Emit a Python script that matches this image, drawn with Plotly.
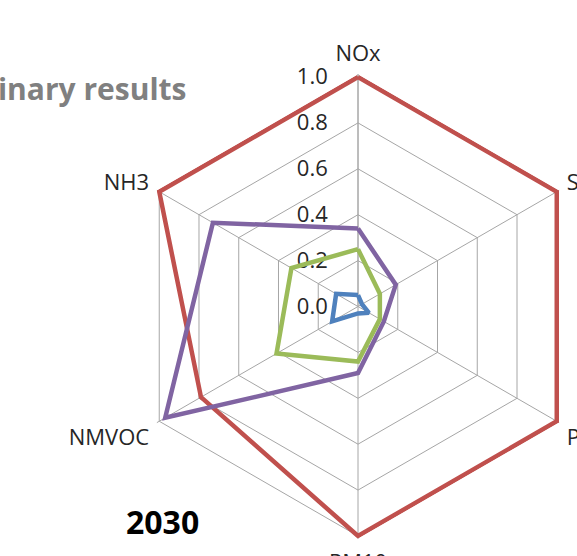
import plotly.graph_objects as go

categories = ["NOx", "SO2", "PM2.5", "PM10", "NMVOC", "NH3"]
red_values = [1.0, 1.0, 1.0, 1.0, 0.79, 1.0]
purple_values = [0.34, 0.19, 0.13, 0.29, 0.97, 0.73]
green_values = [0.25, 0.11, 0.11, 0.24, 0.41, 0.335]
blue_values = [0.05, 0.02, 0.055, 0.03, 0.13, 0.11]
radial_ticks = [0.0, 0.2, 0.4, 0.6, 0.8, 1.0]

series = [
    ("red", red_values, "#C0504D"),
    ("purple", purple_values, "#8064A2"),
    ("green", green_values, "#9BBB59"),
    ("blue", blue_values, "#4F81BD"),
]

W, H = 600, 556
rmax = 1.012
cx, cy, R = 358, 306.5, 229.5 * rmax

fig = go.Figure()
for name, vals, col in series:
    fig.add_trace(go.Scatterpolar(
        r=vals + [vals[0]],
        theta=categories + [categories[0]],
        mode="lines",
        line=dict(color=col, width=4.5),
        name=name,
        showlegend=False,
        cliponaxis=False,
    ))

fig.update_layout(
    width=W, height=H,
    margin=dict(l=0, r=0, t=0, b=0),
    paper_bgcolor="white",
    plot_bgcolor="white",
    font=dict(family="Open Sans, sans-serif", color="#262626", size=22),
    polar=dict(
        domain=dict(x=[(cx - R) / W, (cx + R) / W], y=[(H - cy - R) / H, (H - cy + R) / H]),
        gridshape="linear",
        bgcolor="white",
        angularaxis=dict(
            direction="clockwise", rotation=90, layer="below traces",
            showline=False,
            gridcolor="#A6A6A6", gridwidth=1,
            ticks="outside", ticklen=4, tickcolor="rgba(0,0,0,0)",
            tickfont=dict(size=22, color="#262626"),
        ),
        radialaxis=dict(
            range=[0, rmax], tickvals=radial_ticks, tickformat=".1f",
            angle=90, side="counterclockwise", tickangle=90, layer="below traces",
            showline=True, linecolor="#A6A6A6", linewidth=1,
            gridcolor="#A6A6A6", gridwidth=1,
            ticks="outside", ticklen=22, tickcolor="rgba(0,0,0,0)",
            tickfont=dict(size=22, color="#262626"),
        ),
    ),
    annotations=[
        dict(text="<b>Preliminary results</b>", xref="paper", yref="paper",
             x=189 / W, y=1 - 88 / H, xanchor="right", yanchor="middle",
             showarrow=False, font=dict(size=30, color="#808080")),
        dict(text="<b>2030</b>", xref="paper", yref="paper",
             x=162 / W, y=1 - 521 / H, xanchor="center", yanchor="middle",
             showarrow=False, font=dict(size=32, color="#000000")),
    ],
)

fig.write_html("out.html", config={"displayModeBar": False},
               post_script="document.documentElement.style.overflow='hidden';document.body.style.overflow='hidden';document.body.style.margin='0';")
